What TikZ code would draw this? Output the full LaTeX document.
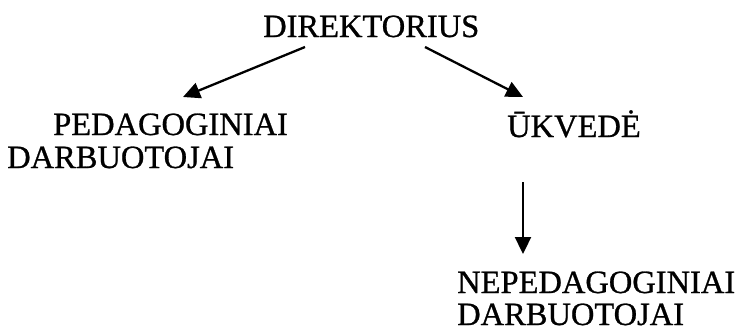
\documentclass[tikz,border=0pt]{standalone}
\usepackage{fontspec}
\setmainfont{Liberation Serif}
\newfontfamily\scanfont[FakeBold=0.8]{Liberation Serif}
\usetikzlibrary{arrows.meta}
\begin{document}
\begin{tikzpicture}[x=1bp,y=-1bp,
  lbl/.style={anchor=base west,inner sep=0pt,font=\scanfont\fontsize{32.5bp}{33bp}\selectfont},
  arr/.style={line width=2.3bp,-{Triangle[length=17bp,width=16bp]}}]
\useasboundingbox (0,0) rectangle (739,333);
\node[lbl] (dir) at (263,37) {DIREKTORIUS};
\node[lbl] (ped) at (53,135) {PEDAGOGINIAI};
\node[lbl] (pedb) at (7,168) {DARBUOTOJAI};
\node[lbl] (ukv) at (507,137) {ŪKVEDĖ};
\node[lbl] (neped) at (457,293) {NEPEDAGOGINIAI};
\node[lbl] (nepedb) at (457,325) {DARBUOTOJAI};
\coordinate (d1) at (305,47);
\coordinate (p1) at (183,97);
\coordinate (d2) at (425,47);
\coordinate (u1) at (523,97);
\coordinate (u2) at (523,182);
\coordinate (n1) at (523,254);
\draw[arr] (d1) -- (p1);
\draw[arr] (d2) -- (u1);
\draw[arr] (u2) -- (n1);
\end{tikzpicture}
\end{document}
